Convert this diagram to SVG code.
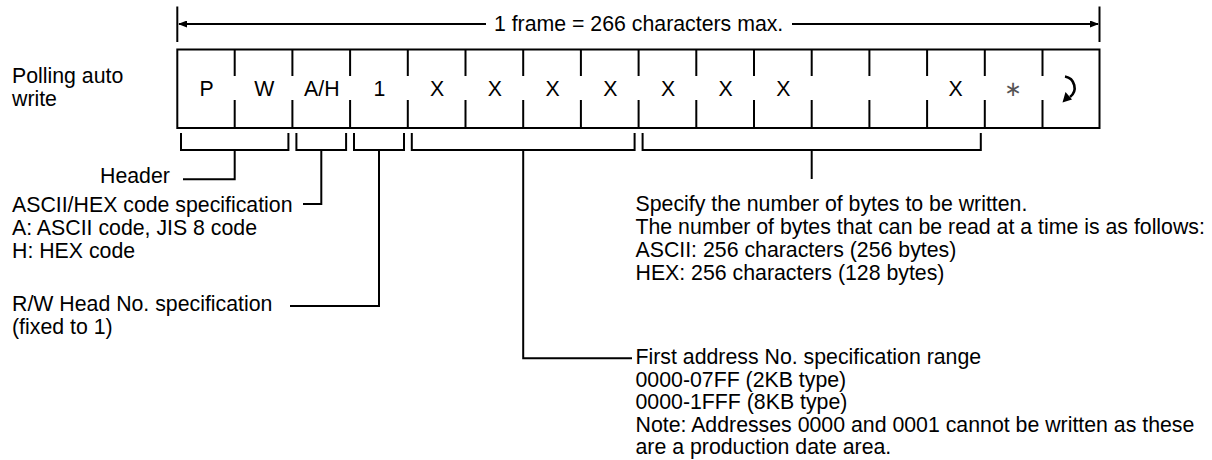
<svg xmlns="http://www.w3.org/2000/svg" width="1212" height="460" viewBox="0 0 1212 460">
<style>
text{font-family:"Liberation Sans",Arial,Helvetica,sans-serif;font-size:21.3px;fill:#000}
.c{text-anchor:middle}
.ln{stroke:#000;stroke-width:2;fill:none}
.dim{stroke:#000;stroke-width:2;fill:none}
.sym{font-family:"DejaVu Sans",sans-serif;font-size:21px;text-anchor:middle;fill:#555}
</style>
<defs>
<marker id="ah" markerUnits="userSpaceOnUse" markerWidth="9" markerHeight="7" refX="8" refY="3.5" orient="auto">
<path d="M0,0 L9,3.5 L0,7 z" fill="#000"/>
</marker>
</defs>
<rect width="1212" height="460" fill="#fff"/>

<g id="frame-length">
<line class="dim" x1="177.3" y1="6.5" x2="177.3" y2="42"/>
<line class="dim" x1="1099.5" y1="6.5" x2="1099.5" y2="42"/>
<line class="dim" x1="486" y1="24" x2="179" y2="24" marker-end="url(#ah)"/>
<line class="dim" x1="792" y1="24" x2="1098" y2="24" marker-end="url(#ah)"/>
<text class="c" x="638.6" y="31">1 frame = 266 characters max.</text>
</g>

<g id="label-polling">
<text x="12" y="83">Polling auto</text>
<text x="12" y="106">write</text>
</g>

<g id="frame">
<rect class="ln" x="177.3" y="49.5" width="922.2" height="78.5"/>
<g class="ln">
<path d="M234.7,49.5V76M234.7,100V128
M292.4,49.5V76M292.4,100V128
M350.1,49.5V76M350.1,100V128
M407.8,49.5V76M407.8,100V128
M465.5,49.5V76M465.5,100V128
M523.2,49.5V76M523.2,100V128
M580.9,49.5V76M580.9,100V128
M638.6,49.5V76M638.6,100V128
M696.3,49.5V76M696.3,100V128
M754,49.5V76M754,100V128
M811.7,49.5V76M811.7,100V128
M869.4,49.5V76M869.4,100V128
M927.1,49.5V76M927.1,100V128
M984.8,49.5V76M984.8,100V128
M1042.5,49.5V76M1042.5,100V128"/>
</g>
<text class="c" x="206.5" y="96">P</text>
<text class="c" x="264.2" y="96">W</text>
<text class="c" x="321.8" y="96">A/H</text>
<text class="c" x="379.5" y="96">1</text>
<text class="c" x="437.2" y="96">X</text>
<text class="c" x="494.9" y="96">X</text>
<text class="c" x="552.6" y="96">X</text>
<text class="c" x="610.3" y="96">X</text>
<text class="c" x="668" y="96">X</text>
<text class="c" x="725.7" y="96">X</text>
<text class="c" x="783.4" y="96">X</text>
<text class="c" x="955.5" y="96">X</text>
<text class="sym" x="1013" y="96">∗</text>
<path d="M1065,76.5 A11.5,11.5 0 0 1 1070,97" stroke="#000" stroke-width="2.6" fill="none"/>
<path d="M1062.5,102.5 L1065.5,92 L1072,99.5 z" fill="#000"/>
</g>

<g id="label-header">
<text x="100" y="183">Header</text>
</g>

<g id="label-code">
<text x="12" y="212">ASCII/HEX code specification</text>
<text x="12" y="235">A: ASCII code, JIS 8 code</text>
<text x="12" y="258">H: HEX code</text>
</g>

<g id="label-head">
<text x="12" y="311">R/W Head No. specification</text>
<text x="12" y="334">(fixed to 1)</text>
</g>

<g id="label-bytes">
<text x="635.5" y="211">Specify the number of bytes to be written.</text>
<text x="635.5" y="234">The number of bytes that can be read at a time is as follows:</text>
<text x="635.5" y="257">ASCII: 256 characters (256 bytes)</text>
<text x="635.5" y="280">HEX: 256 characters (128 bytes)</text>
</g>

<g id="label-address">
<text x="635.5" y="364">First address No. specification range</text>
<text x="635.5" y="386.5">0000-07FF (2KB type)</text>
<text x="635.5" y="409">0000-1FFF (8KB type)</text>
<text x="635.5" y="431.5">Note: Addresses 0000 and 0001 cannot be written as these</text>
<text x="635.5" y="454">are a production date area.</text>
</g>

<g id="connectors" class="ln">
<polyline points="181,133 181,150 288.4,150 288.4,133"/>
<polyline points="296.4,133 296.4,150 346.1,150 346.1,133"/>
<polyline points="354,133 354,150 404,150 404,133"/>
<polyline points="411.8,133 411.8,150 634.6,150 634.6,133"/>
<polyline points="642.6,133 642.6,150 980.8,150 980.8,133"/>
<polyline points="234.7,150 234.7,179.3 183,179.3"/>
<polyline points="321.3,150 321.3,204 303,204"/>
<polyline points="379,150 379,306 290,306"/>
<polyline points="523.2,150 523.2,358.3 632,358.3"/>
<polyline points="811.7,150 811.7,179"/>
</g>
</svg>
